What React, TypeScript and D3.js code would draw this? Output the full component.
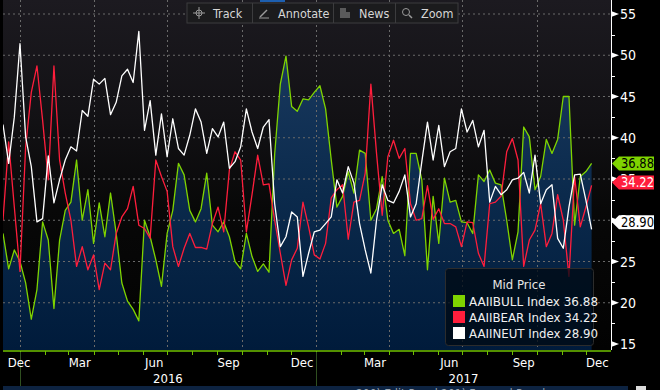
import React, { useEffect } from 'react';
import * as d3 from 'd3';

const W = 660;
const H = 390;

// weekly AAII sentiment readings, first reading 2015-12-11
const firstWeek = new Date(2015, 11, 11);
const bull = [
  28.4, 24.1, 26.4, 25.0, 22.4, 18.0, 21.6, 29.8, 27.6, 19.3, 27.6, 31.2, 32.2, 37.3, 30.0, 33.7, 27.2, 32.1, 28.0, 33.3,
  28.4, 22.4, 20.2, 19.2, 17.8, 30.0, 28.0, 25.2, 22.0, 28.4, 31.2, 36.9, 35.5, 31.2, 29.8, 31.4, 35.7, 29.4, 28.6, 29.8,
  28.0, 25.0, 24.1, 28.4, 25.6, 23.8, 24.7, 23.7, 38.0, 46.5, 49.9, 43.8, 43.2, 44.7, 44.6, 45.5, 46.3, 43.5, 37.3, 31.6,
  32.9, 35.9, 33.3, 38.5, 38.1, 30.0, 31.4, 35.3, 30.0, 28.4, 28.9, 25.7, 38.1, 38.1, 34.9, 24.0, 32.9, 27.2, 35.1, 32.2,
  32.4, 29.8, 29.7, 28.4, 35.5, 34.7, 36.1, 34.5, 34.3, 30.0, 25.2, 28.6, 41.3, 40.1, 33.7, 35.3, 39.8, 38.1, 39.8, 45.0,
  45.0, 29.4, 35.3, 35.9, 36.88,
];
const bear = [
  30.0, 39.5, 31.6, 23.8, 38.9, 45.5, 48.7, 42.1, 34.9, 48.7, 37.3, 33.3, 30.0, 24.4, 26.8, 24.0, 25.8, 21.6, 24.8, 24.0,
  28.4, 30.4, 31.4, 34.1, 29.4, 29.0, 27.8, 37.3, 35.3, 33.5, 26.8, 24.4, 26.6, 28.4, 26.7, 26.7, 26.5, 29.6, 31.6, 28.6,
  36.1, 38.3, 37.3, 28.6, 33.1, 37.9, 34.3, 34.4, 30.0, 26.0, 22.1, 25.2, 26.6, 32.2, 29.2, 25.8, 25.3, 27.2, 32.7, 33.7,
  34.3, 27.7, 32.2, 32.4, 35.7, 46.5, 38.1, 30.6, 37.7, 39.7, 37.5, 38.7, 32.0, 30.0, 30.2, 34.2, 30.1, 31.4, 29.6, 29.6,
  29.2, 26.8, 29.8, 29.7, 26.0, 24.4, 32.0, 32.2, 32.9, 38.3, 39.9, 37.3, 24.4, 27.6, 28.8, 32.0, 26.8, 28.4, 33.1, 30.0,
  23.2, 35.3, 29.2, 31.6, 34.22,
];
const neut = [
  41.6, 36.9, 42.5, 51.4, 40.1, 36.5, 29.8, 30.2, 37.8, 32.1, 34.9, 37.3, 38.9, 38.4, 43.3, 42.6, 47.1, 46.5, 47.2, 42.8,
  44.3, 47.5, 48.3, 46.7, 52.9, 40.9, 44.5, 37.9, 42.9, 37.7, 42.3, 38.7, 37.9, 40.3, 43.5, 41.9, 38.1, 41.1, 40.1, 41.9,
  36.3, 37.1, 38.9, 43.5, 40.7, 38.7, 41.3, 42.2, 32.0, 26.8, 28.0, 31.0, 30.4, 23.2, 26.0, 28.6, 28.8, 29.6, 30.4, 34.9,
  33.3, 36.5, 34.5, 29.6, 26.4, 23.6, 30.0, 34.3, 32.4, 32.1, 33.5, 35.5, 30.4, 32.0, 37.1, 41.9, 37.3, 41.5, 36.5, 38.3,
  38.7, 43.5, 40.7, 42.1, 38.9, 40.9, 32.2, 34.1, 33.1, 33.7, 34.9, 35.1, 35.8, 33.3, 37.9, 32.0, 33.7, 34.3, 27.8, 26.6,
  31.6, 35.5, 35.6, 32.4, 28.90,
];

const seriesNames = ['AAIIBULL Index', 'AAIIBEAR Index', 'AAIINEUT Index'];
const seriesColors = ['#7fd400', '#ff1e3c', '#ffffff'];
const tagText = ['#000000', '#ffffff', '#000000'];
const tagNudge = [0, 3, 7];

const yTicks = [15, 20, 25, 30, 35, 40, 45, 50, 55];
const yMinor = [17.5, 22.5, 27.5, 32.5, 37.5, 42.5, 47.5, 52.5];
const monthLabels = ['Dec', 'Mar', 'Jun', 'Sep', 'Dec', 'Mar', 'Jun', 'Sep', 'Dec'];
const years = ['2016', '2017'];
const toolButtons = ['Track', 'Annotate', 'News', 'Zoom'];

const FONT = "'DejaVu Sans Condensed', 'DejaVu Sans', sans-serif";

const App = () => {
  useEffect(() => {
    document.body.style.margin = '0';
    document.body.style.background = '#000';
  }, []);

  const left = 3, right = 611, top = 0, bottom = 350;
  const x = d3.scaleTime().domain([firstWeek, new Date(2018, 0, 1)]).range([left, right]);
  const y = d3.scaleLinear().domain([15, 55]).range([344, 14]);

  const dates = bull.map((_, i) => d3.timeDay.offset(firstWeek, i * 7));
  const all = [bull, bear, neut];

  const line = d3.line<number>().x((_, i) => x(dates[i])).y(d => y(d));
  const area = d3.area<number>().x((_, i) => x(dates[i])).y0(bottom).y1(d => y(d));

  const quarters = d3.timeMonth.every(3)!.range(new Date(2016, 0, 1), new Date(2018, 0, 1));
  const months = d3.timeMonth.range(new Date(2016, 0, 1), new Date(2018, 0, 1));
  const labelDates = monthLabels.map((_, i) => new Date(2015, 11 + i * 3, 15));
  const yearStarts = [new Date(2016, 0, 1), new Date(2017, 0, 1)];

  const last = all.map(s => s[s.length - 1]);

  // toolbar layout
  const tbX = 187, tbW = 271, tbY = 3, tbH = 20;
  const btnEdges = [tbX, 252, 333, 395, tbX + tbW];

  return (
    <svg width={W} height={H} style={{ position: 'absolute', left: 0, top: 0, display: 'block' }}
      fontFamily={FONT}>
      <defs>
        <linearGradient id="bg" gradientUnits="userSpaceOnUse" x1="0" y1="0" x2="0" y2={bottom}>
          <stop offset="0" stopColor="#1c1a20" />
          <stop offset="0.35" stopColor="#121114" />
          <stop offset="0.6" stopColor="#080808" />
          <stop offset="1" stopColor="#020202" />
        </linearGradient>
        <linearGradient id="fill" gradientUnits="userSpaceOnUse" x1="0" y1="40" x2="0" y2={bottom}>
          <stop offset="0" stopColor="#1a3a60" />
          <stop offset="0.5" stopColor="#0b2a4c" />
          <stop offset="1" stopColor="#001b3b" />
        </linearGradient>
        <clipPath id="plot">
          <rect x={left} y={top} width={right - left} height={bottom - top} />
        </clipPath>
      </defs>

      <rect x={0} y={0} width={W} height={H} fill="#000" />
      <rect x={left} y={top} width={right - left} height={bottom - top} fill="url(#bg)" />

      <g clipPath="url(#plot)">
        <path d={area(bull) ?? ''} fill="url(#fill)" />
        {yTicks.filter(t => t > 15).map(t => (
          <line key={t} x1={left} x2={right} y1={y(t)} y2={y(t)} stroke="#6a6a6a" strokeWidth={1} strokeDasharray="2,3" />
        ))}
        {quarters.map(d => (
          <line key={+d} x1={Math.round(x(d)) + 0.5} x2={Math.round(x(d)) + 0.5} y1={top} y2={bottom}
            stroke="#6a6a6a" strokeWidth={1} strokeDasharray="2,3" />
        ))}
        {all.map((s, k) => (
          <path key={k} d={line(s) ?? ''} fill="none" stroke={seriesColors[k]} strokeWidth={1.3}
            strokeLinejoin="round" />
        ))}
      </g>

      {/* top toolbar */}
      <rect x={260} y={0} width={25} height={2} fill="#1d5fb0" />
      <rect x={tbX} y={tbY} width={tbW} height={tbH} fill="#1b1b1d" stroke="#3c3c3e" />
      {btnEdges.slice(1, -1).map(e => (
        <line key={e} x1={e + 0.5} x2={e + 0.5} y1={tbY} y2={tbY + tbH} stroke="#3c3c3e" />
      ))}
      {toolButtons.map((b, i) => {
        const x0 = btnEdges[i];
        const ix = x0 + 12, iy = tbY + tbH / 2;
        return (
          <g key={b} stroke="#9a9a9a" fill="none" strokeWidth={1}>
            {i === 0 && (
              <g>
                <circle cx={ix} cy={iy} r={3} />
                <line x1={ix - 6} x2={ix + 6} y1={iy} y2={iy} />
                <line x1={ix} x2={ix} y1={iy - 6} y2={iy + 6} />
              </g>
            )}
            {i === 1 && (
              <g>
                <line x1={ix - 4} x2={ix + 3} y1={iy + 4} y2={iy - 3} strokeWidth={1.5} />
                <line x1={ix - 5} x2={ix + 5} y1={iy + 5} y2={iy + 5} />
              </g>
            )}
            {i === 2 && (
              <g>
                {[-4, -2, 0, 2, 4].map(o => (
                  <line key={o} x1={ix - 5} x2={o < 0 ? ix + 1 : ix + 5} y1={iy + o} y2={iy + o} />
                ))}
              </g>
            )}
            {i === 3 && (
              <g>
                <circle cx={ix - 1} cy={iy - 1} r={3.5} />
                <line x1={ix + 2} x2={ix + 5} y1={iy + 2} y2={iy + 5} strokeWidth={1.5} />
              </g>
            )}
            <text x={x0 + 26} y={iy + 4.5} fill="#d6d6d6" stroke="none" fontSize={12.5}>{b}</text>
          </g>
        );
      })}

      {/* right axis */}
      <line x1={right + 0.5} x2={right + 0.5} y1={0} y2={bottom} stroke="#ffffff" />
      {yMinor.map(t => (
        <line key={t} x1={right} x2={right + 4} y1={Math.round(y(t)) + 0.5} y2={Math.round(y(t)) + 0.5} stroke="#fff" />
      ))}
      {yTicks.map(t => (
        <g key={t}>
          <path d={`M${right},${y(t) - 3}L${right + 8},${y(t)}L${right},${y(t) + 3}Z`} fill="#fff" />
          <text x={right + 9} y={y(t) + 5} fill="#fff" fontSize={14}>{t}</text>
        </g>
      ))}

      {/* last value tags */}
      {last.map((v, k) => {
        const cy = y(v) - tagNudge[k];
        return (
          <g key={k}>
            <path d={`M${right + 1},${cy}L${right + 8},${cy - 7}H${654}V${cy + 7}H${right + 8}Z`} fill={seriesColors[k]} />
            <text x={right + 10} y={cy + 5} fill={tagText[k]} fontSize={13.5} textLength={33}
              lengthAdjust="spacingAndGlyphs">{v.toFixed(2)}</text>
          </g>
        );
      })}

      {/* bottom axis */}
      <line x1={left} x2={right} y1={bottom + 1} y2={bottom + 1} stroke="#6fc000" strokeWidth={1.5} />
      {months.map(d => (
        <line key={+d} x1={Math.round(x(d)) + 0.5} x2={Math.round(x(d)) + 0.5} y1={bottom + 1} y2={bottom + 5}
          stroke="#6fc000" />
      ))}
      {yearStarts.map(d => (
        <line key={+d} x1={Math.round(x(d)) + 0.5} x2={Math.round(x(d)) + 0.5} y1={bottom + 2} y2={386}
          stroke="#2f4f20" />
      ))}
      {monthLabels.map((m, i) => (
        <text key={i} x={Math.max(x(labelDates[i]), 19)} y={367} fill="#fff" fontSize={13} textAnchor="middle">{m}</text>
      ))}
      {years.map((yr, i) => {
        const a = yearStarts[i];
        const b = d3.timeYear.offset(a, 1);
        return (
          <text key={yr} x={(x(a) + x(b)) / 2} y={383} fill="#fff" fontSize={13} textAnchor="middle">{yr}</text>
        );
      })}

      {/* bottom panel strip */}
      <rect x={left} y={386} width={625} height={6} fill="#0d2341" />
      <rect x={636} y={386} width={10} height={6} fill="#dcdcdc" />
      <text x={356} y={398} fill="#9aa4b0" fontSize={12}>200) Edit Panel  201) Forward Panel</text>

      {/* legend */}
      <rect x={445.5} y={268.5} width={148} height={77} rx={3} fill="#000a14" fillOpacity={0.78} stroke="#2c2c2c" />
      <text x={519} y={289} fill="#e6e6e6" fontSize={13} textAnchor="middle">Mid Price</text>
      {seriesNames.map((n, k) => (
        <g key={n}>
          <rect x={453} y={295 + k * 16} width={12} height={12} fill={seriesColors[k]} />
          <text x={469} y={306 + k * 16} fill="#f0f0f0" fontSize={13} textLength={129}
            lengthAdjust="spacingAndGlyphs">{`${n} ${last[k].toFixed(2)}`}</text>
        </g>
      ))}
    </svg>
  );
};

export default App;
